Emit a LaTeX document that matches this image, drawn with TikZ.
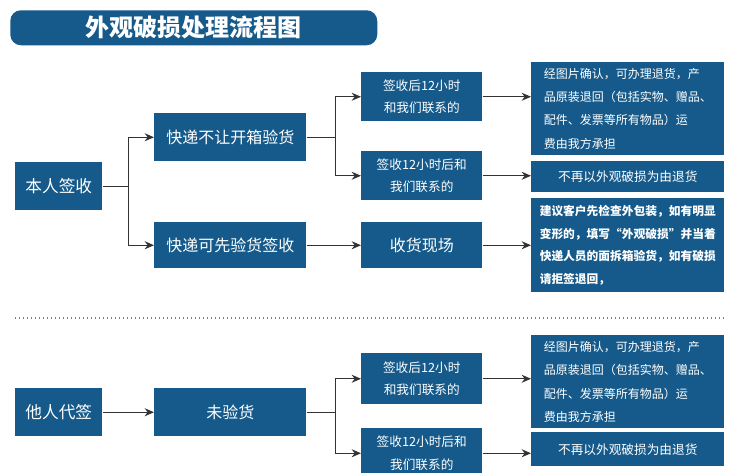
\documentclass[tikz,border=0pt]{standalone}
\usepackage{fontspec}
\setmainfont{Noto Sans CJK SC}
\usetikzlibrary{arrows.meta}
\definecolor{bx}{HTML}{155A8A}
\begin{document}
\begin{tikzpicture}[x=0.75pt,y=-0.75pt,
  bbox/.style={fill=bx,draw=none,text=white,inner sep=0pt,anchor=north west},
  ln/.style={draw=black!80,line width=1pt},
  ar/.style={ln,-{Stealth[length=7pt,width=6pt]}}]
\useasboundingbox (0,0) rectangle (736,473);
\fill[white] (0,0) rectangle (736,473);
\node[bbox,rounded corners=8pt,minimum width=367*0.75pt,minimum height=35*0.75pt,font=\bfseries\fontsize{18}{18}\selectfont] (title) at (10,10) {外观破损处理流程图};
\newcommand{\bxn}[6]{\node[bbox,minimum width=#4*0.75pt,minimum height=#5*0.75pt,align=center,font=#6] (#1) at (#2,#3)}
\bxn{a}{15}{162}{87}{48}{\fontsize{12.5}{14}\selectfont}{本人签收};
\bxn{b}{154}{113}{152}{48}{\fontsize{12}{14}\selectfont}{快递不让开箱验货};
\bxn{c}{154}{222}{152}{46}{\fontsize{12}{14}\selectfont}{快递可先验货签收};
\bxn{d}{361}{72}{121}{49}{\fontsize{9.5}{17}\selectfont}{签收后12小时\\和我们联系的};
\bxn{e}{361}{151}{121}{49}{\fontsize{9.5}{17}\selectfont}{签收12小时后和\\我们联系的};
\bxn{f}{361}{222}{121}{46}{\fontsize{12}{14}\selectfont}{收货现场};
\node[bbox,minimum width=193*0.75pt,minimum height=93*0.75pt,align=left,inner xsep=10*0.75pt,font=\fontsize{9}{17.5}\selectfont] (g) at (531,62) {经图片确认，可办理退货，产\\品原装退回（包括实物、赠品、\\配件、发票等所有物品）运\\费由我方承担};
\bxn{h}{531}{161}{193}{31}{\fontsize{9.5}{12}\selectfont}{不再以外观破损为由退货};
\node[bbox,minimum width=193*0.75pt,minimum height=94*0.75pt,align=left,inner xsep=3*0.75pt,font=\fontsize{8.8}{17}\selectfont\bfseries] (i) at (531,198) {建议客户先检查外包装，如有明显\\变形的，填写“外观破损”并当着\\快递人员的面拆箱验货，如有破损\\请拒签退回，};
\draw[black!50,line width=1pt,dotted] (15,318) -- (724,318);
\bxn{j}{15}{388}{87}{48}{\fontsize{12.5}{14}\selectfont}{他人代签};
\bxn{k}{154}{388}{152}{48}{\fontsize{12}{14}\selectfont}{未验货};
\bxn{l}{361}{353}{121}{51}{\fontsize{9.5}{17}\selectfont}{签收后12小时\\和我们联系的};
\bxn{m}{361}{428}{121}{50}{\fontsize{9.5}{17}\selectfont}{签收12小时后和\\我们联系的};
\node[bbox,minimum width=193*0.75pt,minimum height=93*0.75pt,align=left,inner xsep=10*0.75pt,font=\fontsize{9}{17.5}\selectfont] (n) at (531,335) {经图片确认，可办理退货，产\\品原装退回（包括实物、赠品、\\配件、发票等所有物品）运\\费由我方承担};
\bxn{o}{531}{432}{193}{34}{\fontsize{9.5}{12}\selectfont}{不再以外观破损为由退货};
% connectors
\draw[ln] (a.east) -- ++(26,0) coordinate (a1);
\draw[ar] (a1) |- (b.west);
\draw[ar] (a1) |- (c.west);
\draw[ln] (b.east) -- ++(29,0) coordinate (b1);
\draw[ar] (b1) |- (d.west);
\draw[ar] (b1) |- (e.west);
\draw[ar] (c) -- (f);
\draw[ar] (d.east) -- (d.east -| g.west);
\draw[ar] (e.east) -- (e.east -| h.west);
\draw[ar] (f.east) -- (f.east -| i.west);
\draw[ar] (j) -- (k);
\draw[ln] (k.east) -- ++(29,0) coordinate (k1);
\draw[ar] (k1) |- (l.west);
\draw[ar] (k1) |- (m.west);
\draw[ar] (l.east) -- (l.east -| n.west);
\draw[ar] (m.east) -- (m.east -| o.west);
\end{tikzpicture}
\end{document}
